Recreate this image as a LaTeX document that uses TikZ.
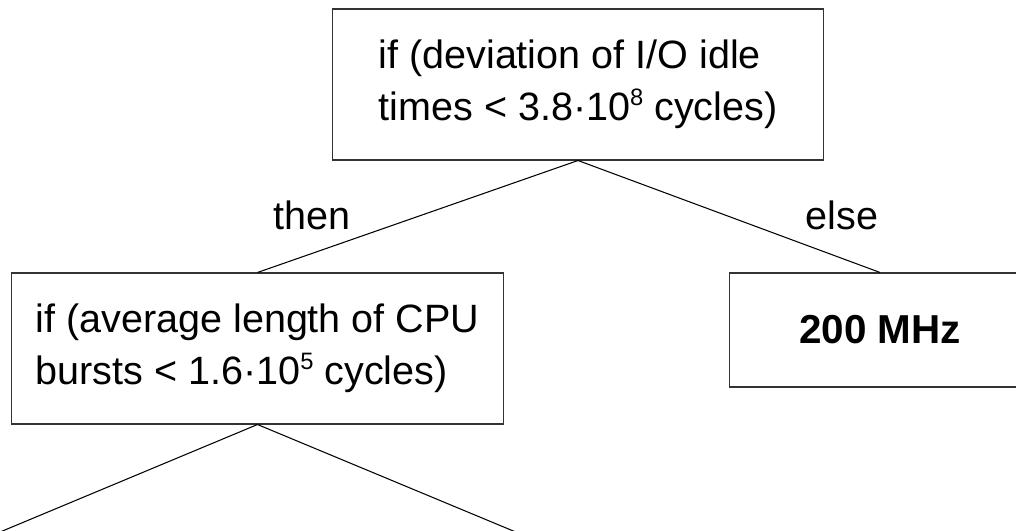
\documentclass[tikz,border=0pt]{standalone}
\usepackage{fontspec}
\setmainfont{Liberation Sans}

% small raised exponent
\newcommand{\expo}[1]{\raisebox{8.5pt}{\fontsize{13.5}{13.5}\selectfont #1}}

\begin{document}
\begin{tikzpicture}[
        x=0.02cm, y=-0.02cm,
        every node/.style={font=\fontsize{22.5}{29.5}\selectfont},
        box/.style={rectangle, draw=black!80, line width=0.6pt, align=left},
        test/.style={box, minimum width=9.84cm, minimum height=3.02cm},
        leaf/.style={box, minimum width=6.04cm, minimum height=2.28cm, font=\fontsize{23}{29.5}\selectfont\bfseries},
        branch/.style={inner sep=0pt},
        edge/.style={line width=0.6pt}
    ]
    \clip (0,0) rectangle (1016,530);

    % Decision nodes
    \node[test] (idle) at (578,84.5) {if (deviation of I/O idle\\times < 3.8·10\expo{8} cycles)};
    \node[test] (burst) at (257.5,348.5) {if (average length of CPU\\bursts < 1.6·10\expo{5} cycles)};

    % Result
    \node[leaf] (freq) at (880,330) {200 MHz};

    % Branch labels
    \node[branch] (then) at (312,215) {then};
    \node[branch] (else) at (842,215) {else};

    % Subtrees below the visible part
    \coordinate (lowleft) at (-67,560);
    \coordinate (lowright) at (583,560);

    % Connections
    \draw[edge] (idle.south) -- (burst.north);
    \draw[edge] (idle.south) -- (freq.north);
    \draw[edge] (burst.south) -- (lowleft);
    \draw[edge] (burst.south) -- (lowright);

\end{tikzpicture}
\end{document}
